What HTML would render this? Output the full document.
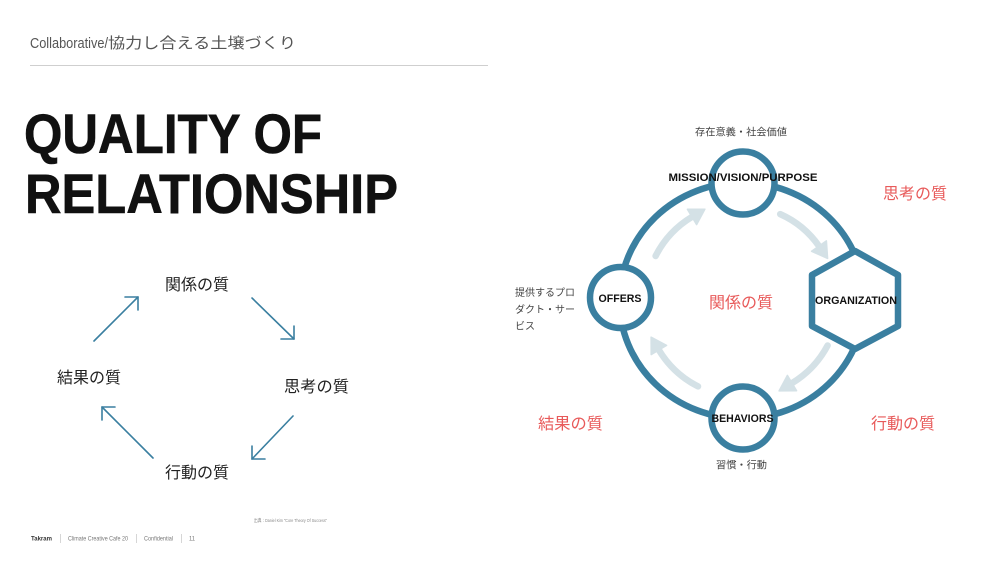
<!DOCTYPE html>
<html>
<head>
<meta charset="utf-8">
<style>
  html,body{margin:0;padding:0;background:#fff;}
  body{width:1000px;height:562px;overflow:hidden;}
  svg{display:block;}
  text{font-family:"Liberation Sans","Noto Sans CJK JP",sans-serif;}
</style>
</head>
<body>
<svg width="1000" height="562" viewBox="0 0 1000 562" xmlns="http://www.w3.org/2000/svg">
  <rect x="0" y="0" width="1000" height="562" fill="#ffffff"/>

  <!-- Header -->
  <text x="30" y="48" font-size="15" fill="#555"><tspan textLength="78" lengthAdjust="spacingAndGlyphs">Collaborative/</tspan><tspan x="108" textLength="188" lengthAdjust="spacingAndGlyphs">協力し合える土壌づくり</tspan></text>
  <line x1="30" y1="65.5" x2="488" y2="65.5" stroke="#cfcfcf" stroke-width="1"/>

  <!-- Title -->
  <text x="24" y="153" font-size="56" font-weight="bold" fill="#111" stroke="#111" stroke-width="0.6" textLength="298" lengthAdjust="spacingAndGlyphs">QUALITY OF</text>
  <text x="25" y="213" font-size="56" font-weight="bold" fill="#111" stroke="#111" stroke-width="0.6" textLength="373" lengthAdjust="spacingAndGlyphs">RELATIONSHIP</text>

  <!-- Left cycle labels -->
  <g font-size="16" fill="#222">
    <text x="165" y="290" textLength="64" lengthAdjust="spacingAndGlyphs">関係の質</text>
    <text x="57" y="383" textLength="64" lengthAdjust="spacingAndGlyphs">結果の質</text>
    <text x="284" y="392" textLength="65" lengthAdjust="spacingAndGlyphs">思考の質</text>
    <text x="165" y="478" textLength="64" lengthAdjust="spacingAndGlyphs">行動の質</text>
  </g>

  <!-- Left cycle arrows -->
  <g stroke="#3a7fa0" stroke-width="1.6" fill="none" stroke-linecap="round" stroke-linejoin="round">
    <line x1="94" y1="341" x2="138" y2="297"/>
    <polyline points="125,297 138,297 138,310"/>
    <line x1="252" y1="298" x2="294" y2="339"/>
    <polyline points="281,339 294,339 294,326"/>
    <line x1="293" y1="416" x2="252" y2="459"/>
    <polyline points="265,459 252,459 252,446"/>
    <line x1="153" y1="458" x2="102" y2="407"/>
    <polyline points="115,407 102,407 102,420"/>
  </g>

  <!-- Footer -->
  <text x="254" y="522" font-size="4.5" fill="#888" textLength="73" lengthAdjust="spacingAndGlyphs">出典：Daniel Kim "Core Theory Of Success"</text>
  <g font-size="6.5" fill="#777">
    <text x="31" y="540.5" fill="#333" font-weight="bold" textLength="21" lengthAdjust="spacingAndGlyphs">Takram</text>
    <text x="68" y="540.5" textLength="60" lengthAdjust="spacingAndGlyphs">Climate Creative Cafe 20</text>
    <text x="144" y="540.5" textLength="29" lengthAdjust="spacingAndGlyphs">Confidential</text>
    <text x="189" y="540.5" textLength="6" lengthAdjust="spacingAndGlyphs">11</text>
  </g>
  <g stroke="#cccccc" stroke-width="0.8">
    <line x1="60.5" y1="534" x2="60.5" y2="543"/>
    <line x1="136.5" y1="534" x2="136.5" y2="543"/>
    <line x1="181.5" y1="534" x2="181.5" y2="543"/>
  </g>

  <!-- Right diagram: ring -->
  <ellipse cx="742" cy="300.5" rx="122.5" ry="118" fill="none" stroke="#3a7fa0" stroke-width="6.5"/>

  <!-- Light inner arrows -->
  <g stroke="#d4e1e6" stroke-width="6.5" fill="none" stroke-linecap="round">
    <path d="M655.6 256.0 A97 97 0 0 1 692.0 216.9"/>
    <path d="M780.2 214.1 A94 94 0 0 1 819.0 246.1"/>
    <path d="M827.6 345.5 A97 97 0 0 1 792.0 383.1"/>
    <path d="M698.0 386.4 A97 97 0 0 1 658.9 350.0"/>
  </g>
  <g fill="#d4e1e6" stroke="#d4e1e6" stroke-width="1.5" stroke-linejoin="round">
    <polygon points="704.9,209.2 687.4,209.2 696.6,224.6"/>
    <polygon points="827.6,258.4 826.4,240.9 811.6,251.3"/>
    <polygon points="779.1,390.9 796.6,390.8 787.4,375.4"/>
    <polygon points="651.1,337.1 651.2,354.6 666.6,345.4"/>
  </g>

  <!-- Nodes -->
  <g fill="#ffffff" stroke="#3a7fa0" stroke-width="6.5" stroke-linejoin="round">
    <circle cx="743" cy="183" r="31.5"/>
    <circle cx="620.5" cy="297.5" r="30.5"/>
    <circle cx="743" cy="418" r="31.5"/>
    <polygon points="855,251 898,275 898,326 855,349 812,326 812,275"/>
  </g>

  <!-- Node labels -->
  <g font-size="11" font-weight="bold" fill="#111">
    <text x="668.5" y="181" textLength="149" lengthAdjust="spacingAndGlyphs">MISSION/VISION/PURPOSE</text>
    <text x="598.5" y="302" textLength="43" lengthAdjust="spacingAndGlyphs">OFFERS</text>
    <text x="815" y="304" textLength="82" lengthAdjust="spacingAndGlyphs">ORGANIZATION</text>
    <text x="711.5" y="422" textLength="62" lengthAdjust="spacingAndGlyphs">BEHAVIORS</text>
  </g>

  <!-- Small descriptions -->
  <g font-size="10" fill="#444">
    <text x="695" y="135.5" textLength="92" lengthAdjust="spacingAndGlyphs">存在意義・社会価値</text>
    <text x="515" y="296" textLength="60" lengthAdjust="spacingAndGlyphs">提供するプロ</text>
    <text x="515" y="313" textLength="60" lengthAdjust="spacingAndGlyphs">ダクト・サー</text>
    <text x="515" y="329.5" textLength="20" lengthAdjust="spacingAndGlyphs">ビス</text>
    <text x="716" y="468.5" textLength="51" lengthAdjust="spacingAndGlyphs">習慣・行動</text>
  </g>

  <!-- Red quality labels -->
  <g font-size="16" fill="#e85a5a">
    <text x="709" y="308" textLength="64" lengthAdjust="spacingAndGlyphs">関係の質</text>
    <text x="883" y="199" textLength="64" lengthAdjust="spacingAndGlyphs">思考の質</text>
    <text x="538" y="429" textLength="65" lengthAdjust="spacingAndGlyphs">結果の質</text>
    <text x="871" y="429" textLength="64" lengthAdjust="spacingAndGlyphs">行動の質</text>
  </g>
</svg>
</body>
</html>
